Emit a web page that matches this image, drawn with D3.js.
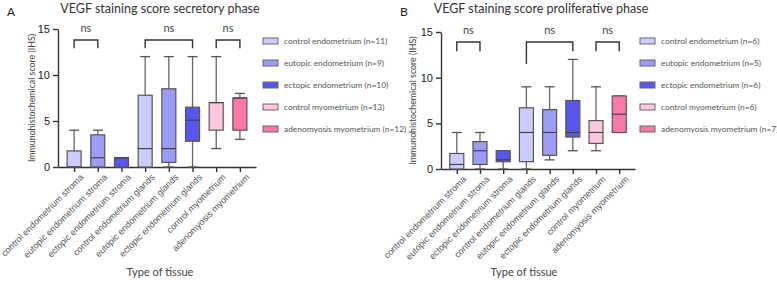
<!DOCTYPE html>
<html>
<head>
<meta charset="utf-8">
<script src="https://cdn.jsdelivr.net/npm/d3@7"></script>
<style>
  body { margin: 0; background: #fff; }
  svg { font-family: Lato, "Open Sans", sans-serif; }
</style>
</head>
<body>
<svg id="chart" width="777" height="281"></svg>
<script>
// categories (x axis)
var tissues = ["control endometrium stroma", "eutopic endometrium stroma", "ectopic endometrium stroma",
  "control endometrium glands", "eutopic endometrium glands", "ectopic endometrium glands",
  "control myometrium", "adenomyosis myometrium"];
var groupOf = [0, 1, 2, 0, 1, 2, 3, 4];
var groupColors = ["#ccccfd", "#9c9cf6", "#5757f0", "#ffc6e1", "#fb78a8"];
var yTicks = [0, 5, 10, 15];

// secretory phase: [min, q1, median, q3, max]
var secretory = [
  [0, 0, 0, 1.75, 4],
  [0, 0, 1, 3.5, 4],
  [0, 0, 1, 1, 1],
  [0, 0, 2, 7.8, 12],
  [0, 0.5, 2, 8.5, 12],
  [0, 2.8, 5.1, 6.5, 12],
  [2, 4, 7, 7, 12],
  [3, 4, 7.5, 7.5, 8]
];
var secretoryLegend = ["control endometrium (n=11)", "eutopic endometrium (n=9)", "ectopic endometrium (n=10)",
  "control myometrium (n=13)", "adenomyosis myometrium (n=12)"];

// proliferative phase
var proliferative = [
  [0, 0, 0.5, 1.7, 4],
  [0, 0.5, 2, 3, 4],
  [0, 0.8, 1, 2, 2],
  [0, 0.8, 4, 6.7, 9],
  [1, 1.5, 4, 6.5, 9],
  [2, 3.5, 4, 7.5, 12],
  [2, 2.8, 4, 5.3, 9],
  [4, 4, 6, 8, 8]
];
var proliferativeLegend = ["control endometrium (n=6)", "eutopic endometrium (n=5)", "ectopic endometrium (n=6)",
  "control myometrium (n=6)", "adenomyosis myometrium (n=7)"];

// brackets: [from index, to index, top value, left leg end, right leg end]
var secretoryBrackets = [[0, 1, 13.8, 12.9, 12.9], [3, 5, 13.8, 12.9, 12.9], [6, 7, 13.8, 12.9, 12.9]];
var proliferativeBrackets = [[0, 1, 13.9, 12.9, 12.9], [3, 5, 13.9, 11.5, 12.9], [6, 7, 13.9, 12.9, 12.9]];

var svg = d3.select("#chart");

function panel(opt) {
  var g = svg.append("g");
  var x = d3.scalePoint().domain(tissues).range([opt.left, opt.right]).padding(0.68);
  var y = d3.scaleLinear().domain([0, 15]).range([opt.bottom, opt.top]);

  // letter and title
  g.append("text").attr("x", opt.letterX).attr("y", 16)
    .style("font-size", "12px").style("fill", "#222").text(opt.letter);
  g.append("text").attr("x", opt.titleX).attr("y", 13).attr("text-anchor", "middle")
    .style("font-size", "12.5px").style("fill", "#333").text(opt.title);

  // y axis
  var ya = g.append("g").attr("transform", "translate(" + opt.left + ",0)")
    .call(d3.axisLeft(y).tickValues(yTicks).tickSize(5).tickSizeOuter(0).tickPadding(3));
  ya.selectAll("text").style("font-size", "11px").style("fill", "#222");
  ya.selectAll("line,path").style("stroke", "#333").style("stroke-width", "1.4px");

  // x axis
  var xa = g.append("g").attr("transform", "translate(0," + opt.bottom + ")")
    .call(d3.axisBottom(x).tickSize(5).tickSizeOuter(0).tickPadding(4));
  xa.selectAll("line,path").style("stroke", "#333").style("stroke-width", "1.4px");
  xa.selectAll("text")
    .attr("text-anchor", "end")
    .attr("dx", "-0.1em").attr("dy", "0.6em")
    .attr("transform", "rotate(-45)")
    .style("font-size", "9px").style("fill", "#555");

  // axis titles
  g.append("text")
    .attr("transform", "translate(" + opt.ylabX + "," + ((opt.top + opt.bottom) / 2) + ") rotate(-90)")
    .attr("text-anchor", "middle")
    .style("font-size", "8.8px").style("fill", "#444")
    .text("Immunohistochemical score (IHS)");
  g.append("text").attr("x", opt.xlabX).attr("y", 276).attr("text-anchor", "middle")
    .style("font-size", "11px").style("fill", "#444").text("Type of tissue");

  // box plots
  var bw = 14, cap = 5;
  var boxes = g.selectAll(".box").data(opt.data).enter().append("g").attr("class", "box")
    .attr("transform", function (d, i) { return "translate(" + x(tissues[i]) + ",0)"; });
  boxes.append("line")
    .attr("y1", function (d) { return y(d[0]); }).attr("y2", function (d) { return y(d[4]); })
    .style("stroke", "#666").style("stroke-width", "1.3px");
  boxes.append("line").attr("x1", -cap).attr("x2", cap)
    .attr("y1", function (d) { return y(d[4]); }).attr("y2", function (d) { return y(d[4]); })
    .style("stroke", "#555").style("stroke-width", "1.3px");
  boxes.append("line").attr("x1", -cap).attr("x2", cap)
    .attr("y1", function (d) { return y(d[0]); }).attr("y2", function (d) { return y(d[0]); })
    .style("stroke", "#555").style("stroke-width", "1.3px");
  boxes.append("rect")
    .attr("x", -bw / 2).attr("width", bw)
    .attr("y", function (d) { return y(d[3]); })
    .attr("height", function (d) { return Math.max(0, y(d[1]) - y(d[3])); })
    .style("fill", function (d, i) { return groupColors[groupOf[i]]; })
    .style("stroke", "#555").style("stroke-width", "1.2px");
  boxes.append("line").attr("x1", -bw / 2).attr("x2", bw / 2)
    .attr("y1", function (d) { return y(d[2]); }).attr("y2", function (d) { return y(d[2]); })
    .style("stroke", "#444").style("stroke-width", "1.2px");

  // significance brackets
  opt.brackets.forEach(function (b) {
    var x1 = x(tissues[b[0]]), x2 = x(tissues[b[1]]);
    g.append("path")
      .attr("d", "M" + x1 + "," + y(b[3]) + "V" + y(b[2]) + "H" + x2 + "V" + y(b[4]))
      .style("fill", "none").style("stroke", "#333").style("stroke-width", "1.4px");
    g.append("text").attr("x", (x1 + x2) / 2).attr("y", y(b[2]) - 8).attr("text-anchor", "middle")
      .style("font-size", "11px").style("fill", "#444").text("ns");
  });

  // legend
  var lg = g.append("g").attr("transform", "translate(" + opt.legX + ",41)");
  var items = lg.selectAll("g").data(opt.legend).enter().append("g")
    .attr("transform", function (d, i) { return "translate(0," + (i * 22) + ")"; });
  items.append("rect").attr("x", 0).attr("y", -3).attr("width", 15).attr("height", 6)
    .style("fill", function (d, i) { return groupColors[i]; })
    .style("stroke", "#666").style("stroke-width", "1px");
  items.append("text").attr("x", 21).attr("y", 0).attr("dy", "0.35em")
    .style("font-size", "8.4px").style("fill", "#555").text(function (d) { return d; });
}

panel({ letter: "A", letterX: 7, title: "VEGF staining score secretory phase", titleX: 160,
  left: 58, right: 256, top: 29, bottom: 167, ylabX: 35, xlabX: 160, legX: 263,
  data: secretory, legend: secretoryLegend, brackets: secretoryBrackets });
panel({ letter: "B", letterX: 400, title: "VEGF staining score proliferative phase", titleX: 541,
  left: 441, right: 635, top: 32, bottom: 169, ylabX: 416, xlabX: 524, legX: 640,
  data: proliferative, legend: proliferativeLegend, brackets: proliferativeBrackets });
</script>
</body>
</html>
